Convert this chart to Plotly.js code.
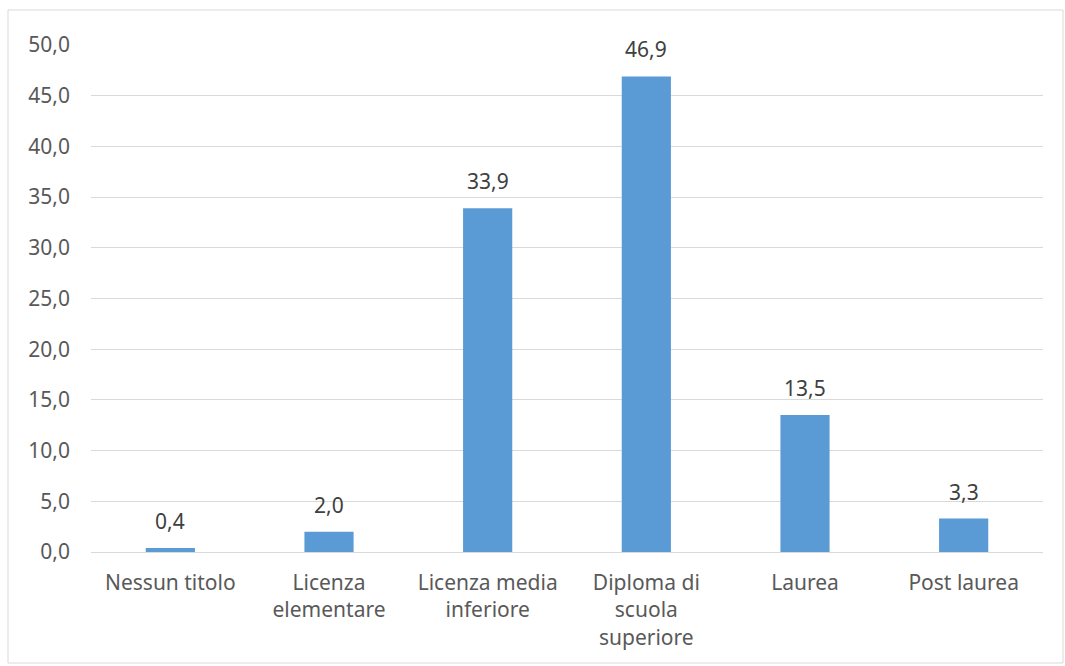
<!DOCTYPE html>
<html>
<head>
<meta charset="utf-8">
<script src="https://cdn.plot.ly/plotly-3.0.1.min.js"></script>
<style>html,body{margin:0;padding:0;background:#fff;}#chart{width:1065px;height:666px;}</style>
</head>
<body>
<div id="chart"></div>
<script>
const categories = ["Nessun titolo", "Licenza<br>elementare", "Licenza media<br>inferiore", "Diploma di<br>scuola<br>superiore", "Laurea", "Post laurea"];
const values = [0.4, 2.0, 33.9, 46.9, 13.5, 3.3];
const tickVals = [0, 5, 10, 15, 20, 25, 30, 35, 40, 45, 50];

const FONT = "Noto Sans, Open Sans, sans-serif";

const trace = {
  type: "bar",
  x: categories,
  y: values,
  marker: {color: "#5b9bd5"},
  textposition: "none",
  hoverinfo: "none"
};

const labelAnnotations = categories.map((c, i) => ({
  x: c, y: values[i], xref: "x", yref: "y",
  text: values[i].toFixed(1).replace(".", ","),
  showarrow: false, yanchor: "bottom", yshift: 11,
  font: {family: FONT, size: 21, color: "#404040"}
}));

const layout = {
  width: 1065, height: 666,
  margin: {l: 91, r: 22, t: 45, b: 114},
  paper_bgcolor: "#ffffff", plot_bgcolor: "#ffffff",
  separators: ",.",
  bargap: 0.69,
  font: {family: FONT, size: 21, color: "#595959"},
  xaxis: {
    showgrid: false, showline: false, zeroline: false, ticks: "",
    tickfont: {size: 21, color: "#595959"},
    ticklabelstandoff: 16,
    automargin: false
  },
  yaxis: {
    range: [0, 50], tickvals: tickVals, tickformat: ".1f",
    showgrid: true, gridcolor: "#d9d9d9", gridwidth: 1,
    zeroline: true, zerolinecolor: "#d9d9d9", zerolinewidth: 1,
    showline: false, ticks: "", ticklabelstandoff: 20,
    tickfont: {size: 21, color: "#595959"},
    automargin: false
  },
  annotations: labelAnnotations,
  shapes: [{
    type: "rect", xref: "paper", yref: "paper",
    x0: (8 - 91) / 952, x1: (1063 - 91) / 952,
    y0: (552 - 663) / 507, y1: (552 - 10) / 507,
    line: {color: "#d9d9d9", width: 1}, fillcolor: "rgba(0,0,0,0)", layer: "below"
  }],
  showlegend: false
};

Plotly.newPlot("chart", [trace], layout, {displayModeBar: false, staticPlot: true});
</script>
</body>
</html>
